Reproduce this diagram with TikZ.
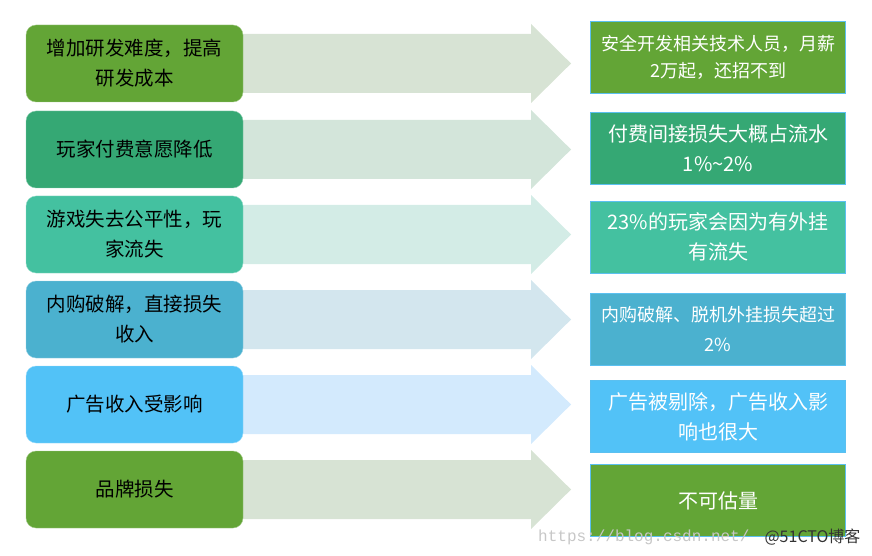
\documentclass[tikz,border=0pt]{standalone}
\usepackage{fontspec}
\setmainfont{Noto Sans CJK SC}
\newfontfamily\monofont{Liberation Mono}
\usetikzlibrary{calc,backgrounds}

\definecolor{leafgreen}{HTML}{63A536}
\definecolor{jadegreen}{HTML}{35A874}
\definecolor{mintgreen}{HTML}{44C1A0}
\definecolor{lakeblue}{HTML}{4BB1CF}
\definecolor{skyblue}{HTML}{52C2F7}
\definecolor{leafpale}{HTML}{D7E3D4}
\definecolor{jadepale}{HTML}{D3E5DA}
\definecolor{mintpale}{HTML}{D3ECE6}
\definecolor{lakepale}{HTML}{D3E6EE}
\definecolor{skypale}{HTML}{D3EAFD}
\definecolor{edgeblue}{HTML}{5BC0F0}

\tikzset{
  cause/.style={rounded corners=10pt, minimum width=217pt, minimum height=77pt,
    inner sep=0pt, align=center, text=black, font=\fontsize{19.5}{30}\selectfont},
  effect/.style={draw=edgeblue, line width=0.9pt, minimum width=255pt, minimum height=72pt,
    inner sep=0pt, align=center, text=white, font=\fontsize{20}{30}\selectfont},
}

% block arrow from a cause box towards its effect box
\newcommand{\blockarrow}[3]{%
  \fill[#3] ($(#1.center)+(0,29.5)$) -- ($(#2.west |- #1.center)+(-59,29.5)$)
    -- ++(0,10) -- ($(#2.west |- #1.center)+(-19,0)$)
    -- ($(#2.west |- #1.center)+(-59,-39.5)$) -- ++(0,10)
    -- ($(#1.center)+(0,-29.5)$) -- cycle;}

\begin{document}
\begin{tikzpicture}[x=1pt, y=1pt]
        \useasboundingbox (0,0) rectangle (872,555);

        \node[cause, fill=leafgreen, draw=leafgreen!60!white] (cost) at (134.5,491.5) {增加研发难度，提高\\研发成本};
        \node[cause, fill=jadegreen, draw=jadegreen!60!white] (pay) at (134.5,405.5) {玩家付费意愿降低};
        \node[cause, fill=mintgreen, draw=mintgreen!60!white] (fair) at (134.5,320.5) {游戏失去公平性，玩\\家流失};
        \node[cause, fill=lakeblue, draw=lakeblue!60!white] (crack) at (134.5,235.5) {内购破解，直接损失\\收入};
        \node[cause, fill=skyblue, draw=skyblue!60!white] (ads) at (134.5,150.5) {广告收入受影响};
        \node[cause, fill=leafgreen, draw=leafgreen!60!white] (brand) at (134.5,65.5) {品牌损失};

        \node[effect, fill=leafgreen, font=\fontsize{18}{27}\selectfont] (salary) at (718,498) {安全开发相关技术人员，月薪\\2万起，还招不到};
        \node[effect, fill=jadegreen] (flow) at (718,407) {付费间接损失大概占流水\\1\%\textasciitilde 2\%};
        \node[effect, fill=mintgreen] (churn) at (718,318) {23\%的玩家会因为有外挂\\有流失};
        \node[effect, fill=lakeblue, font=\fontsize{18}{30}\selectfont] (loss) at (718,226) {内购破解、脱机外挂损失超过\\2\%};
        \node[effect, fill=skyblue] (removed) at (718,138.5) {广告被剔除，广告收入影\\响也很大};
        \node[effect, fill=leafgreen] (price) at (718,54.5) {不可估量};

        \begin{scope}[on background layer]
            \blockarrow{cost}{salary}{leafpale}
            \blockarrow{pay}{flow}{jadepale}
            \blockarrow{fair}{churn}{mintpale}
            \blockarrow{crack}{loss}{lakepale}
            \blockarrow{ads}{removed}{skypale}
            \blockarrow{brand}{price}{leafpale}
        \end{scope}

        % watermarks
        \node[anchor=west, inner sep=0pt, text=black!22, font=\monofont\fontsize{16}{16}\selectfont] (csdn) at (538,18) {https://blog.csdn.net/};
        \node[inner sep=0pt, text=black!80, font=\fontsize{16}{16}\selectfont] (cto) at (812.5,18) {@51CTO博客};
    \end{tikzpicture}
\end{document}
